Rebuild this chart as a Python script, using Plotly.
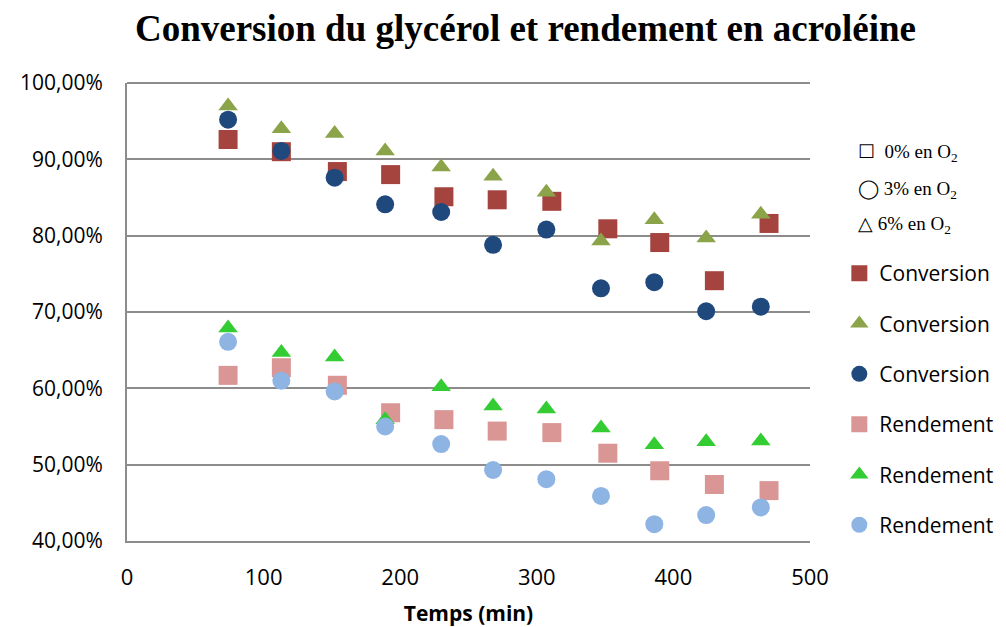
import plotly.graph_objects as go

# Times (min)
temps_sq = [74, 113, 154, 193, 232, 271, 311, 352, 390, 430, 470]
temps_ct = [74, 113, 152, 189, 230, 268, 307, 347, 386, 424, 464]

# Conversion du glycérol
conv_0 = [0.926, 0.910, 0.884, 0.880, 0.851, 0.847, 0.845, 0.809, 0.791, 0.741, 0.816]
conv_6 = [0.970, 0.940, 0.934, 0.911, 0.890, 0.878, 0.857, 0.793, 0.821, 0.797, 0.828]
conv_3 = [0.952, 0.911, 0.876, 0.841, 0.831, 0.788, 0.808, 0.731, 0.739, 0.701, 0.707]

# Rendement en acroléine
rend_0 = [0.617, 0.627, 0.604, 0.568, 0.559, 0.544, 0.542, 0.515, 0.492, 0.474, 0.466]
rend_6 = [0.679, 0.647, 0.641, 0.559, 0.602, 0.577, 0.573, 0.548, 0.526, 0.530, 0.531]
rend_3 = [0.661, 0.610, 0.596, 0.550, 0.527, 0.493, 0.481, 0.459, 0.422, 0.434, 0.444]

x_ticks = [0, 100, 200, 300, 400, 500]
y_ticks = [0.4, 0.5, 0.6, 0.7, 0.8, 0.9, 1.0]

series = [
    ("Conversion", temps_sq, conv_0, "square", "#A5443F", 19),
    ("Conversion", temps_ct, conv_6, "triangle-up", "#8BA44A", 17),
    ("Conversion", temps_ct, conv_3, "circle", "#1F497D", 18),
    ("Rendement", temps_sq, rend_0, "square", "#D99694", 19),
    ("Rendement", temps_ct, rend_6, "triangle-up", "#33CC33", 17),
    ("Rendement", temps_ct, rend_3, "circle", "#8EB4E3", 18),
]

fig = go.Figure()
for i, (name, xs, ys, sym, col, sz) in enumerate(series):
    fig.add_trace(go.Scatter(
        x=xs, y=ys, mode="markers", name=name, legendgroup=f"g{i}",
        marker=dict(symbol=sym, color=col, size=sz, line=dict(width=0)),
    ))

grid_col = "#8C8C8C"
# the page body adds an 8px offset; the figure is sized to fit 1006x627
fig.update_layout(
    width=998, height=619, autosize=False,
    margin=dict(l=119, r=196, t=75, b=86, autoexpand=False),
    paper_bgcolor="white", plot_bgcolor="white",
    separators=", ",
    title=dict(
        text="<b>Conversion du glycérol et rendement en acroléine</b>",
        font=dict(family="Liberation Serif", size=37, color="black"),
        x=0.5185, xanchor="center", y=0.968, yanchor="middle", yref="container",
        automargin=False,
    ),
    xaxis=dict(
        range=[0, 500], tickvals=x_ticks, showgrid=False, zeroline=False,
        showline=True, linecolor=grid_col, linewidth=2, ticks="",
        tickfont=dict(family="Open Sans", size=22, color="black"),
        ticklabelstandoff=16, automargin=False,
        title=dict(text="<b>Temps (min)</b>", standoff=17,
                   font=dict(family="Open Sans", size=21, color="black")),
    ),
    yaxis=dict(
        range=[0.4, 1.0], tickvals=y_ticks, tickformat=".2%",
        showgrid=True, gridcolor=grid_col, gridwidth=2, zeroline=False,
        showline=True, linecolor=grid_col, linewidth=2, ticks="",
        tickfont=dict(family="Open Sans", size=21, color="black"),
        ticklabelstandoff=18, automargin=False,
    ),
    legend=dict(
        xref="container", yref="container",
        x=0.833, xanchor="left", y=0.604, yanchor="top",
        font=dict(family="Open Sans", size=21, color="black"),
        tracegroupgap=20, itemwidth=30, bgcolor="rgba(0,0,0,0)",
    ),
    showlegend=True,
)

# top border of plot area (100% gridline)
fig.add_shape(type="line", xref="paper", yref="paper", x0=0, x1=1, y0=1, y1=1,
              line=dict(color=grid_col, width=2))

o2_labels = [
    "☐  0% en O<sub>2</sub>",
    "◯ 3% en O<sub>2</sub>",
    "△ 6% en O<sub>2</sub>",
]
o2_y = [0.848, 0.767, 0.689]
for txt, yy in zip(o2_labels, o2_y):
    fig.add_annotation(text=txt, xref="paper", yref="paper", x=1.067, y=yy,
                       xanchor="left", yanchor="middle", showarrow=False,
                       font=dict(family="Liberation Serif", size=19, color="black"))

fig.write_html("out.html")
